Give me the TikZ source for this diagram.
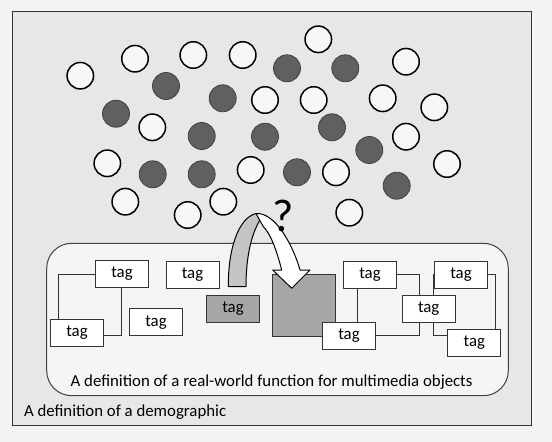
\documentclass[tikz,border=0pt]{standalone}
\usepackage{fontspec}
\setmainfont{Carlito}
\definecolor{pagebg}{HTML}{F3F3F3}
\definecolor{outerbg}{HTML}{E7E7E7}
\definecolor{innerbg}{HTML}{F5F5F5}
\definecolor{darkdot}{HTML}{606060}
\definecolor{midgray}{HTML}{A6A6A6}
\definecolor{arrowgray}{HTML}{C4C4C4}
\begin{document}
\begin{tikzpicture}[x=1pt,y=-1pt,
  wc/.style={circle,draw=black,line width=1.5pt,fill=white!97!black,minimum size=26.5pt,inner sep=0},
  dc/.style={circle,draw=black!75,line width=0.8pt,fill=darkdot,minimum size=27pt,inner sep=0},
  tagbox/.style={draw=black!80,line width=0.9pt,fill=white,minimum width=53pt,minimum height=27pt,inner sep=0,font=\fontsize{16.8}{20}\selectfont},
  conn/.style={draw=black!80,line width=0.9pt},
  lab/.style={anchor=base west,inner sep=0,font=\fontsize{16.8}{20}\selectfont}]
\useasboundingbox (0,0) rectangle (552,442);
\fill[pagebg] (0,0) rectangle (552,442);
\draw[fill=outerbg,draw=black!80,line width=1pt] (12.3,11.7) rectangle (531.3,425.7);
\draw[fill=innerbg,draw=black!75,line width=1pt,rounded corners=25pt] (46.7,243.3) rectangle (508.3,395.7);
% circles
\node[wc] (w1) at (80.3,75.7) {};
\node[wc] (w2) at (135,58.7) {};
\node[wc] (w3) at (193.3,55) {};
\node[wc] (w4) at (242.7,55) {};
\node[wc] (w5) at (318.3,39.3) {};
\node[wc] (w6) at (406,61.7) {};
\node[wc] (w7) at (265,100) {};
\node[wc] (w8) at (313.7,100) {};
\node[wc] (w9) at (382.7,98.3) {};
\node[wc] (w10) at (434.3,107.3) {};
\node[wc] (w11) at (152.3,127.3) {};
\node[wc] (w12) at (406,136.7) {};
\node[wc] (w13) at (107.3,163.3) {};
\node[wc] (w14) at (250.7,170) {};
\node[wc] (w15) at (336,172.3) {};
\node[wc] (w16) at (447,164) {};
\node[wc] (w17) at (125.3,201.7) {};
\node[wc] (w18) at (223.3,201.7) {};
\node[wc] (w19) at (187.7,215) {};
\node[wc] (w20) at (349.3,212.7) {};
\node[dc] (d1) at (166,86) {};
\node[dc] (d2) at (222.7,98.3) {};
\node[dc] (d3) at (287,68.3) {};
\node[dc] (d4) at (345.3,68.3) {};
\node[dc] (d5) at (116,113.7) {};
\node[dc] (d6) at (201.7,136) {};
\node[dc] (d7) at (265,136.7) {};
\node[dc] (d8) at (332,127.3) {};
\node[dc] (d9) at (369.3,150) {};
\node[dc] (d10) at (152.7,174.3) {};
\node[dc] (d11) at (201.7,174.3) {};
\node[dc] (d12) at (297,172.3) {};
\node[dc] (d13) at (396.7,185.7) {};
% big gray rectangle
\node[draw=black!80,line width=0.9pt,fill=midgray,minimum width=62.6pt,minimum height=61.7pt,inner sep=0] (big) at (304,305.2) {};
% tags
\node[tagbox] (tA) at (122,274) {tag};
\node[tagbox] (tB) at (192.5,274.5) {tag};
\node[tagbox,fill=midgray] (tC) at (233,308.7) {tag};
\node[tagbox] (tD) at (156,322.3) {tag};
\node[tagbox] (tE) at (77,333) {tag};
\node[tagbox] (tF) at (370,274.5) {tag};
\node[tagbox] (tG) at (461,274.5) {tag};
\node[tagbox] (tH) at (428.7,308.7) {tag};
\node[tagbox] (tI) at (349,335.8) {tag};
\node[tagbox] (tJ) at (474.3,342.7) {tag};
% connectors
\draw[conn] ([xshift=8.7pt]tE.north west) |- (tA.west);
\draw[conn] ([xshift=-1pt]tA.south) |- ([yshift=-2.7pt]tE.east);
\draw[conn] ([xshift=-13pt]tF.south) -- ([xshift=-13pt]tF.south |- tI.north);
\draw[conn] (tF.east) -| ([xshift=-9.4pt]tH.north);
\draw[conn] (tI.east) -| ([xshift=-9.4pt]tH.south);
\draw[conn] (tG.west) -| ([xshift=4.6pt]tH.north);
\draw[conn] ([xshift=4.6pt]tH.south) |- ([yshift=7pt]tJ.west);
\draw[conn] (tG.east) -| ([xshift=21pt]tJ.north);
% curved arrow
\draw[fill=arrowgray,draw=black,line width=1pt,line join=round]
  (228.3,286.7) .. controls (228,250) and (238,218) .. (256,213.5)
  -- (263,215.5) .. controls (252,230) and (246,255) .. (246,286.7) -- cycle;
\draw[fill=white,draw=black,line width=1pt,line join=round]
  (256,213.5) .. controls (275,212) and (293,245) .. (300,270)
  -- (310,270) -- (291.7,288.3) -- (272.7,270) -- (281.7,270)
  .. controls (276,248) and (270,233) .. (263.3,226.7) -- cycle;
\node[inner sep=0,font=\fontsize{46}{50}\selectfont] (q) at (283,216) {?};
% labels
\node[lab] (lab1) at (70.5,386) {A definition of a real-world function for multimedia objects};
\node[lab] (lab2) at (23.8,416.7) {A definition of a demographic};
\end{tikzpicture}
\end{document}
